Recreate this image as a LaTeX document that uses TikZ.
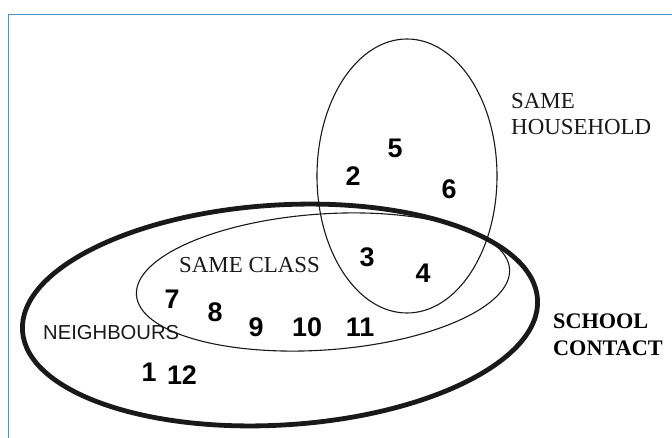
\documentclass[tikz,border=0pt]{standalone}
\usepackage{fontspec}
\setmainfont{Liberation Serif}
\setsansfont{Liberation Sans}
\definecolor{framecol}{RGB}{84,141,204}
\begin{document}
\begin{tikzpicture}[x=1bp,y=-1bp,
  thinline/.style={line width=1.1bp, black!90},
  thickline/.style={line width=4.8bp, black!90},
  serifLabel/.style={inner sep=0pt, font=\fontsize{23}{27}\selectfont, align=left, text=black!90},
  boldLabel/.style={inner sep=0pt, font=\fontsize{22.3}{27}\selectfont\bfseries, align=left, text=black},
  sansLabel/.style={inner sep=0pt, font=\sffamily\fontsize{20.3}{24}\selectfont, text=black!90},
  num/.style={inner sep=0pt, font=\sffamily\bfseries\fontsize{27}{27}\selectfont, text=black}]
\useasboundingbox (0,0) rectangle (672,438);
% frame
\draw[framecol, line width=1.4bp] (8.5,438) -- (8.5,14.5) -- (672,14.5);
% ellipses
\draw[thinline, rotate around={0:(407,176)}] (407,176) ellipse [x radius=90bp, y radius=137bp];
\draw[thinline, rotate around={4:(323,282)}] (323,282) ellipse [x radius=187bp, y radius=68bp];
\draw[thickline, rotate around={3.5:(280,315)}] (280,315) ellipse [x radius=258bp, y radius=110bp];
% labels
\node[serifLabel, anchor=base west] (hh) at (511,135) {SAME\\HOUSEHOLD};
\node[serifLabel, anchor=base west] (cl) at (179,273) {SAME CLASS};
\node[boldLabel, anchor=base west] (sc) at (553,355) {SCHOOL\\CONTACT};
\node[sansLabel, anchor=base west] (nb) at (43,339) {NEIGHBOURS};
% numbers
\node[num] (n5) at (395,148) {5};
\node[num] (n2) at (353,176) {2};
\node[num] (n6) at (449,189) {6};
\node[num] (n3) at (367,257) {3};
\node[num] (n4) at (423,273) {4};
\node[num] (n7) at (172,299) {7};
\node[num] (n8) at (215,312) {8};
\node[num] (n9) at (256,327) {9};
\node[num] (n10) at (307,327) {10};
\node[num] (n11) at (360,327) {11};
\node[num] (n1) at (149,372) {1};
\node[num] (n12) at (182,375) {12};
\end{tikzpicture}
\end{document}
